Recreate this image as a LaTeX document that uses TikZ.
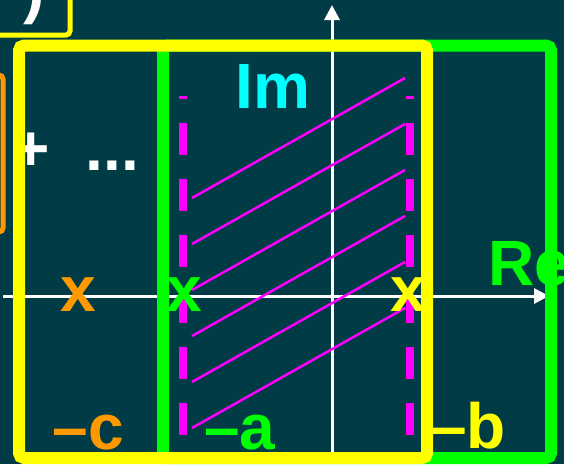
\documentclass[tikz,border=0pt]{standalone}
\usepackage{fontspec}
\setmainfont{Liberation Sans}
\usetikzlibrary{arrows.meta}
\definecolor{cBack}{RGB}{0,59,70}
\definecolor{cYellow}{RGB}{255,255,0}
\definecolor{cGreen}{RGB}{0,255,0}
\definecolor{cMagenta}{RGB}{255,0,255}
\definecolor{cCyan}{RGB}{0,255,255}
\definecolor{cOrange}{RGB}{255,153,0}
\tikzset{
    frame/.style={line width=12pt, rounded corners=5pt},
    thinframe/.style={line width=5pt, rounded corners=4pt},
    axis/.style={white, line width=3pt, -{Triangle[length=15pt, width=15pt]}},
    hatch/.style={cMagenta, line width=2.5pt},
    strip/.style={cMagenta, line width=8pt, dash pattern=on 32pt off 24pt, dash phase=29pt},
    lbl/.style={font=\fontsize{64}{64}\selectfont\bfseries, inner sep=0pt},
}
\begin{document}
\begin{tikzpicture}[x=1pt, y=-1pt]
    \fill[cBack] (0,0) rectangle (564,464);
    \useasboundingbox (0,0) rectangle (564,464);
    \clip (0,0) rectangle (564,464);
    \draw[thinframe, cYellow] (-30,-30) rectangle (70,35);
    \node[lbl, white, anchor=base] (paren) at (34,11) {)};
    \draw[thinframe, cOrange] (-50,75) rectangle (3,232);
    \coordinate (reL) at (3,296);
    \coordinate (reR) at (549,296);
    \coordinate (imB) at (332,470);
    \coordinate (imT) at (332,5);
    \draw[axis] (reL) -- (reR);
    \draw[axis] (imB) -- (imT);
    \foreach \k in {0,...,5}
        \draw[hatch] (192,{198+46*\k}) -- (405,{78+46*\k});
    \draw[strip] (183,96) -- (183,440);
    \draw[strip] (410,96) -- (410,440);
    \node[lbl, white, anchor=base] (plus) at (31,170) {+};
    \node[lbl, white, anchor=base] (dots) at (112.5,170) {...};
    \node[lbl, cCyan, anchor=base] (im) at (273,108) {Im};
    \node[lbl, cGreen, anchor=base west] (re) at (488,285) {Re};
    \node[lbl, cOrange] (xc) at (78,295) {x};
    \node[lbl, cGreen] (xa) at (184,295) {x};
    \node[lbl, cYellow] (xb) at (408,295) {x};
    \node[lbl, cOrange, anchor=base] (mc) at (88.5,449) {--c};
    \node[lbl, cGreen, anchor=base] (ma) at (240,449) {--a};
    \node[lbl, cYellow, anchor=base] (mb) at (468.5,448) {--b};
    \draw[frame, cGreen] (163,45.5) rectangle (551,458);
    \draw[frame, cYellow] (19,45.5) rectangle (427,458);
\end{tikzpicture}
\end{document}
